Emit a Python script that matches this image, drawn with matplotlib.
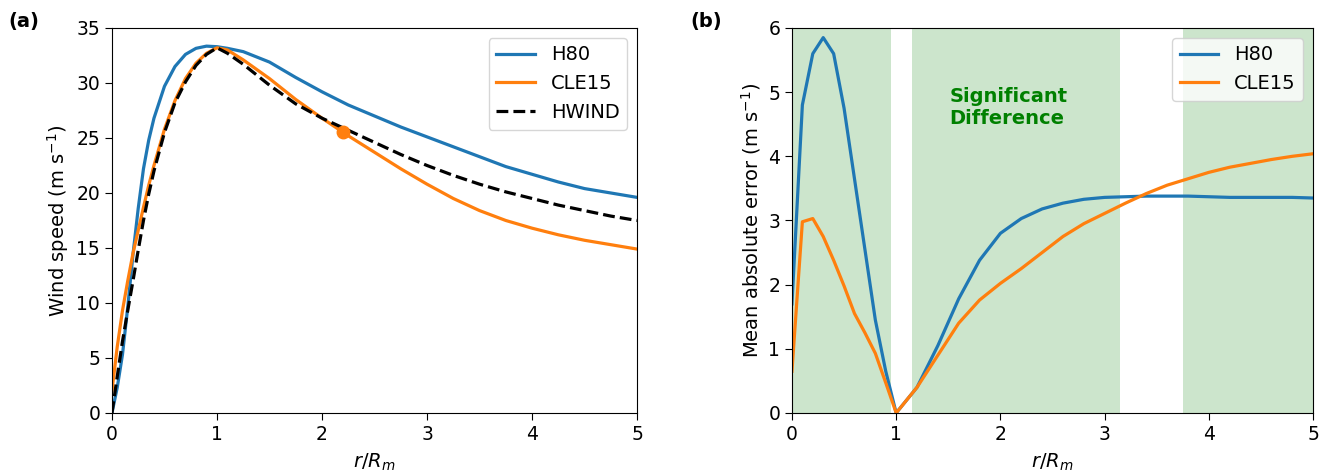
import numpy as np
import matplotlib
matplotlib.use("Agg")
import matplotlib.pyplot as plt

# ---- panel (a): wind profiles ----
r_a = [0, 0.05, 0.1, 0.15, 0.2, 0.25, 0.3, 0.35, 0.4, 0.5, 0.6, 0.7, 0.8, 0.9, 1.0, 1.1,
       1.25, 1.5, 1.75, 2.0, 2.25, 2.5, 2.75, 3.0, 3.25, 3.5, 3.75, 4.0, 4.25, 4.5, 4.75, 5.0]
h80_a = [0, 2.3, 5.3, 9.6, 14.4, 18.6, 22.2, 24.8, 26.8, 29.7, 31.5, 32.6, 33.15, 33.35, 33.3, 33.15,
         32.85, 31.9, 30.5, 29.2, 28.0, 27.0, 26.0, 25.1, 24.2, 23.3, 22.4, 21.7, 21.0, 20.4, 20.0, 19.6]
cle15_a = [2.0, 6.0, 9.3, 12.0, 14.5, 16.6, 18.7, 20.7, 22.5, 25.8, 28.4, 30.4, 31.8, 32.7, 33.2, 33.0,
           32.1, 30.4, 28.5, 26.8, 25.2, 23.7, 22.2, 20.8, 19.5, 18.4, 17.5, 16.8, 16.2, 15.7, 15.3, 14.9]
hwind_a = [0, 3.3, 6.5, 9.3, 12.0, 14.8, 17.5, 19.9, 22.0, 25.5, 28.2, 30.1, 31.6, 32.6, 33.2, 32.7,
           31.7, 29.8, 28.1, 26.8, 25.7, 24.6, 23.5, 22.5, 21.6, 20.8, 20.1, 19.5, 18.9, 18.4, 17.9, 17.5]
dot_r, dot_v = 2.2, 25.5

# ---- panel (b): mean absolute error ----
r_b = [0, 0.1, 0.2, 0.3, 0.4, 0.5, 0.6, 0.7, 0.8, 0.9, 1.0,
       1.2, 1.4, 1.6, 1.8, 2.0, 2.2, 2.4, 2.6, 2.8, 3.0, 3.2, 3.4, 3.6,
       3.8, 4.0, 4.2, 4.4, 4.6, 4.8, 5.0]
h80_b = [1.7, 4.8, 5.6, 5.85, 5.6, 4.75, 3.65, 2.55, 1.45, 0.65, 0.0,
         0.4, 1.05, 1.78, 2.38, 2.8, 3.03, 3.18, 3.27, 3.33, 3.36, 3.37, 3.38, 3.38,
         3.38, 3.37, 3.36, 3.36, 3.36, 3.36, 3.35]
cle15_b = [0.65, 2.98, 3.03, 2.75, 2.38, 1.98, 1.55, 1.25, 0.93, 0.47, 0.0,
           0.4, 0.9, 1.4, 1.76, 2.02, 2.25, 2.5, 2.75, 2.95, 3.11, 3.27, 3.42, 3.55,
           3.65, 3.75, 3.83, 3.89, 3.95, 4.0, 4.04]
sig_spans = [(0.0, 0.95), (1.15, 3.15), (3.75, 5.0)]

blue = "#1f77b4"
orange = "#ff7f0e"
fs = 14
tfs = 13.5

fig = plt.figure(figsize=(13.25, 4.76), dpi=100)
ax1 = fig.add_axes([0.0845, 0.1324, 0.3963, 0.8088])
ax2 = fig.add_axes([0.5977, 0.1324, 0.3933, 0.8088])

ax1.plot(r_a, h80_a, color=blue, lw=2.3, label="H80")
ax1.plot(r_a, cle15_a, color=orange, lw=2.3, label="CLE15")
ax1.plot(r_a, hwind_a, color="black", lw=2.3, ls="--", label="HWIND")
ax1.plot(dot_r, dot_v, "o", color=orange, ms=9)
ax1.set_xlim(0, 5)
ax1.set_ylim(0, 35)
ax1.set_xlabel("$r/R_m$", fontsize=fs, labelpad=6)
ax1.set_ylabel("Wind speed (m s$^{-1}$)", fontsize=fs)
ax1.legend(loc="upper right", fontsize=fs)
ax1.tick_params(labelsize=tfs, length=5)

for a, b in sig_spans:
    ax2.axvspan(a, b, color="green", alpha=0.2, lw=0)
ax2.plot(r_b, h80_b, color=blue, lw=2.3, label="H80")
ax2.plot(r_b, cle15_b, color=orange, lw=2.3, label="CLE15")
ax2.text(1.51, 5.08, "Significant\nDifference", color="green", fontsize=fs,
         fontweight="bold", va="top", ha="left")
ax2.set_xlim(0, 5)
ax2.set_ylim(0, 6)
ax2.set_xlabel("$r/R_m$", fontsize=fs, labelpad=6)
ax2.set_ylabel("Mean absolute error (m s$^{-1}$)", fontsize=fs)
ax2.legend(loc="upper right", fontsize=fs)
ax2.tick_params(labelsize=tfs, length=5)

fig.text(0.006, 0.955, "(a)", fontsize=fs, fontweight="bold", va="center")
fig.text(0.521, 0.955, "(b)", fontsize=fs, fontweight="bold", va="center")

fig.savefig("out.png", dpi=100)
